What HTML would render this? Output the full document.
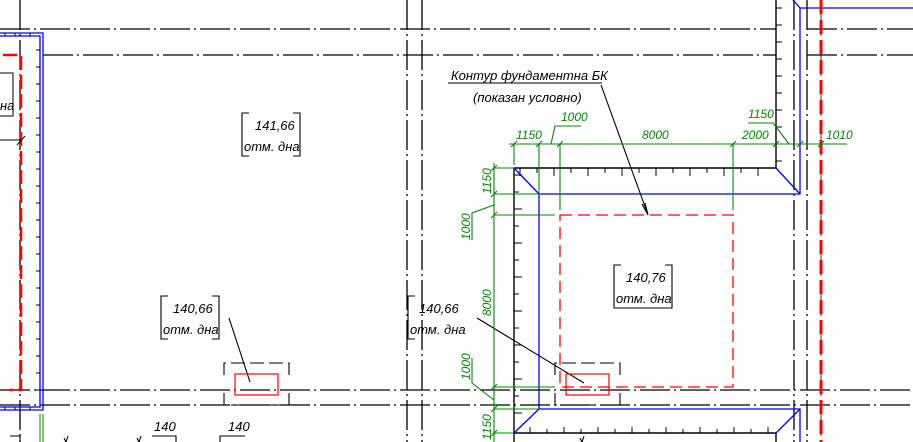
<!DOCTYPE html>
<html><head><meta charset="utf-8"><style>
html,body{margin:0;padding:0;background:#fff;}
svg{display:block;}
text{font-family:"Liberation Sans",sans-serif;font-style:italic;}
</style></head><body>
<svg width="913" height="442" viewBox="0 0 913 442" xmlns="http://www.w3.org/2000/svg">
<g stroke="#000" stroke-width="1.3" fill="none" stroke-dasharray="30 4 2 4">
<line x1="0" y1="29" x2="776" y2="29"/>
<line x1="807" y1="29" x2="913" y2="29"/>
<line x1="43" y1="55" x2="776" y2="55"/>
<line x1="807" y1="55" x2="913" y2="55"/>
<line x1="0" y1="390" x2="913" y2="390"/>
<line x1="0" y1="405" x2="913" y2="405"/>
<line x1="20" y1="0" x2="20" y2="442"/>
<line x1="407" y1="0" x2="407" y2="442"/>
<line x1="422" y1="0" x2="422" y2="442"/>
<line x1="794" y1="0" x2="794" y2="442"/>
<line x1="807" y1="0" x2="807" y2="442"/>
<line x1="821" y1="0" x2="821" y2="442" stroke-width="0.8"/>
</g>
<!-- left blue structure -->
<g fill="none">
<path d="M0 33 H43 V410 H0" stroke="#00f" stroke-width="1.3"/>
<path d="M0 36 H40 V407 H0" stroke="#00f" stroke-width="1.3"/>
<path d="M40 50h-4M40 67h-4M40 84h-4M40 101h-4M40 118h-4M40 135h-4M40 152h-4M40 169h-4M40 186h-4M40 203h-4M40 220h-4M40 237h-4M40 254h-4M40 271h-4M40 288h-4M40 305h-4M40 322h-4M40 339h-4M40 356h-4M40 373h-4M40 390h-4M5 33v3M15 33v3M30 33v3M5 407v3M15 407v3M30 407v3" stroke="#000" stroke-width="1"/>
<path d="M3 55 H21 V390 H9" stroke="#f00" stroke-width="2.5" stroke-dasharray="14 5"/>
<path d="M0 73 H13 V116 H0" stroke="#000"/>
<path d="M0 140 H22 M17 145 L25 136" stroke="#000"/>
<line x1="40" y1="414" x2="40" y2="442" stroke="#080"/>
<line x1="43" y1="414" x2="43" y2="442" stroke="#080"/>
</g>
<!-- labels -->
<g fill="none" stroke="#000" stroke-width="1.1">
<path d="M249 113 H242 V156 H249 M293 113 H300 V156 H293"/>
<path d="M168 296 H161 V339 H168 M212 296 H219 V339 H212"/>
<path d="M415 296 H408 V339 H415"/>
<path d="M621 265 H614 V308 H672 V265 H665"/>
<line x1="229" y1="318" x2="250" y2="382"/>
<path d="M224 375 V363 H289 V375 M224 393 V405 H289 V393" stroke-dasharray="14 5"/>
<path d="M555 375 V363 H620 V375 M555 393 V405 H620 V393" stroke-dasharray="14 5"/>
<line x1="477" y1="318" x2="584" y2="383"/>
<line x1="448" y1="83" x2="602" y2="83"/>
<line x1="601" y1="85" x2="648" y2="215"/>
<path d="M642 204 L648 215 L645 203"/>
<path d="M152 436 H176 V442 M220 442 V436 H245 M10 436 H20 V442"/>
<path d="M64 438 l2 4 l2 -6 M137 438 l2 4 l2 -6 M580 438 l2 4 l2 -6"/>
</g>
<rect x="235" y="374" width="43" height="21" fill="none" stroke="#f00" stroke-width="1.2"/>
<rect x="566" y="374" width="43" height="21" fill="none" stroke="#f00" stroke-width="1.2"/>
<g font-size="13" fill="#000">
<text x="255" y="130">141,66</text>
<text x="244" y="151">отм. дна</text>
<text x="173" y="313">140,66</text>
<text x="163" y="334">отм. дна</text>
<text x="419" y="313">140,66</text>
<text x="410" y="334">отм. дна</text>
<text x="626" y="282">140,76</text>
<text x="616" y="303">отм. дна</text>
<text x="0" y="110">на</text>
<text x="451" y="80">Контур фундаментна БК</text>
<text x="473" y="102">(показан условно)</text>
<text x="154" y="431">140</text>
<text x="228" y="431">140</text>
</g>
<!-- main pit -->
<g fill="none" stroke="#000" stroke-width="1.4">
<path d="M776 0 V168 H514 V442"/>
<path d="M514 433 H776 V442"/>
<path stroke-width="1" d="M776 8h6M776 25h6M776 42h6M776 59h6M776 76h6M776 93h6M776 110h6M776 127h6M776 144h6M776 161h6
M520 168v8M537 168v5M554 168v8M571 168v5M588 168v8M605 168v5M622 168v8M639 168v5M656 168v8M673 168v5M690 168v8M707 168v5M724 168v8M741 168v5M758 168v8
M514 175h8M514 192h5M514 209h8M514 226h5M514 243h8M514 260h5M514 277h8M514 294h5M514 311h8M514 328h5M514 345h8M514 362h5M514 379h8M514 396h5M514 413h8
M530 433v-6M547 433v-4M564 433v-6M581 433v-4M598 433v-6M615 433v-4M632 433v-6M649 433v-4M666 433v-6M683 433v-4M700 433v-6M717 433v-4M734 433v-6M751 433v-4M768 433v-6"/>
</g>
<g fill="none" stroke="#00f" stroke-width="1.3">
<path d="M913 8 H800 V194 H539 V409 H800 V442"/>
<path d="M793 0 L800 8 M514 168 L539 194 M776 168 L800 194 M539 409 L514 433 M800 409 L776 433"/>
</g>
<rect x="560" y="215" width="173" height="172" fill="none" stroke="#f00" stroke-width="1.3" stroke-dasharray="12 6"/>
<line x1="821" y1="0" x2="821" y2="442" stroke="#f00" stroke-width="3" stroke-dasharray="14 6"/>
<!-- dims -->
<g fill="none" stroke="#080" stroke-width="1.1">
<line x1="509" y1="144" x2="847" y2="144"/>
<path d="M514 144V165M539 144V195M560 144V210M733 144V210"/>
<path d="M511 147l6-6M536 147l6-6M557 147l6-6M730 147l6-6M773 147l6-6M797 147l6-6M818 147l6-6"/>
<path d="M581 126 H555 L551 144 M748 123 H773 L789 144"/>
<line x1="494" y1="163" x2="494" y2="442"/>
<path d="M494 168H514M494 194H539M494 215H555M494 387H555M494 409H539M494 433H514"/>
<path d="M491 171l6-6M491 197l6-6M491 218l6-6M491 390l6-6M491 412l6-6M491 436l6-6"/>
<path d="M494 205 L472 213 V240 M494 400 L472 383 V358"/>
</g>
<g font-size="12" fill="#080">
<text x="516" y="139">1150</text>
<text x="561" y="121">1000</text>
<text x="642" y="139">8000</text>
<text x="742" y="139">2000</text>
<text x="748" y="118">1150</text>
<text x="826" y="139">1010</text>
<text transform="translate(491,194) rotate(-90)">1150</text>
<text transform="translate(470,240) rotate(-90)">1000</text>
<text transform="translate(491,316) rotate(-90)">8000</text>
<text transform="translate(470,380) rotate(-90)">1000</text>
<text transform="translate(491,440) rotate(-90)">1150</text>
</g>
</svg>
</body></html>
